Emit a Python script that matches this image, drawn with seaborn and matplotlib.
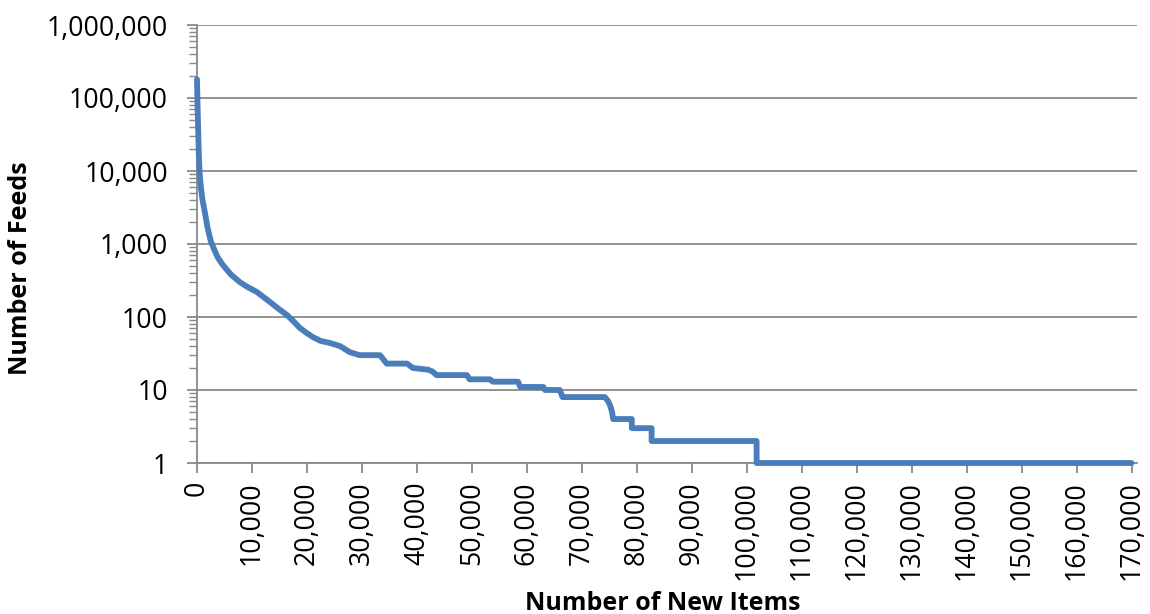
import numpy as np
import pandas as pd
import matplotlib
matplotlib.use("Agg")
import matplotlib.pyplot as plt
import seaborn as sns
from matplotlib.ticker import FuncFormatter, LogLocator, NullFormatter

# Feed counts by number of new items
new_items = [0, 100, 200, 300, 450, 700, 1000, 1400, 1900, 2500, 3100, 3800,
             4700, 6200, 7800, 9300, 10900, 12000, 13300, 14800, 16400, 17500,
             18700, 20000, 21100, 22500, 24200, 26000, 27800, 29600, 33300,
             34500, 38200, 39300, 42000, 42800, 43600, 49100, 49600, 53300,
             53800, 58400, 58800, 63000, 63300, 66000, 66500, 74200, 74800,
             75200, 75500, 75700, 79100, 79100, 82700, 82700, 101800, 101800,
             170000]
feeds = [180000, 80000, 40000, 20000, 10000, 6000, 4000, 2800, 1700, 1100,
         850, 650, 516, 380, 300, 255, 220, 190, 160, 130, 106, 88, 71, 60, 53,
         47, 44, 40, 33, 30, 30, 23, 23, 20, 19, 18, 16, 16, 14, 14, 13, 13, 11,
         11, 10, 10, 8, 8, 7, 6, 5, 4, 4, 3, 3, 2, 2, 1, 1]

x_ticks = list(range(0, 170001, 10000))
y_ticks = [1, 10, 100, 1000, 10000, 100000, 1000000]

x_title = "Number of New Items"
y_title = "Number of Feeds"

sns.set_style("white")
plt.rcParams["font.family"] = ["Open Sans", "DejaVu Sans"]

GRAY = "#898989"
BLUE = "#4A7EBB"
TICK_FS = 19.2
TITLE_FS = 18

W, H = 1150, 614
fig = plt.figure(figsize=(W / 100, H / 100), dpi=100)
ax = fig.add_axes([197 / W, 1 - 463 / H, 940 / W, 438 / H])

df = pd.DataFrame({"new_items": new_items, "feeds": feeds})
sns.lineplot(data=df, x="new_items", y="feeds", ax=ax, sort=False,
             estimator=None, color=BLUE, linewidth=4.2)
line = ax.lines[0]
line.set_solid_capstyle("round")
line.set_solid_joinstyle("round")
line.set_clip_on(False)
line.set_zorder(5)

ax.set_yscale("log")
ax.set_ylim(1, 1e6)
ax.set_xlim(0, 171000)

ax.set_yticks(y_ticks)
ax.yaxis.set_major_formatter(FuncFormatter(lambda v, p: f"{v:,.0f}"))
ax.yaxis.set_minor_locator(LogLocator(base=10, subs=np.arange(2, 10)))
ax.yaxis.set_minor_formatter(NullFormatter())

ax.set_xticks(x_ticks)
ax.set_xticklabels([f"{v:,}" for v in x_ticks], rotation=90, va="top", ha="center")

ax.grid(False)
ax.yaxis.grid(True, which="major", color=GRAY, linewidth=1.3)
ax.set_axisbelow(True)

for side in ("top", "right"):
    ax.spines[side].set_visible(False)
for side in ("left", "bottom"):
    ax.spines[side].set_color(GRAY)
    ax.spines[side].set_linewidth(1.3)

ax.tick_params(axis="y", which="major", left=True, direction="out", length=7,
               width=1.3, color=GRAY, pad=14, labelsize=TICK_FS, labelcolor="black")
ax.tick_params(axis="y", which="minor", left=True, direction="out", length=5.5,
               width=1.0, color=GRAY)
ax.tick_params(axis="x", which="major", bottom=True, direction="out", length=7,
               width=1.3, color=GRAY, pad=6, labelsize=TICK_FS, labelcolor="black")

ax.set_xlabel(x_title, fontsize=TITLE_FS, fontweight="bold", color="black")
ax.set_ylabel(y_title, fontsize=TITLE_FS, fontweight="bold", color="black")
ax.xaxis.label.set_va("center")
ax.yaxis.label.set_va("center")
ax.xaxis.set_label_coords((663 - 197) / 940, (463 - 603) / 438)
ax.yaxis.set_label_coords((21 - 197) / 940, (463 - 268) / 438)

fig.savefig("out.png", dpi=100)
